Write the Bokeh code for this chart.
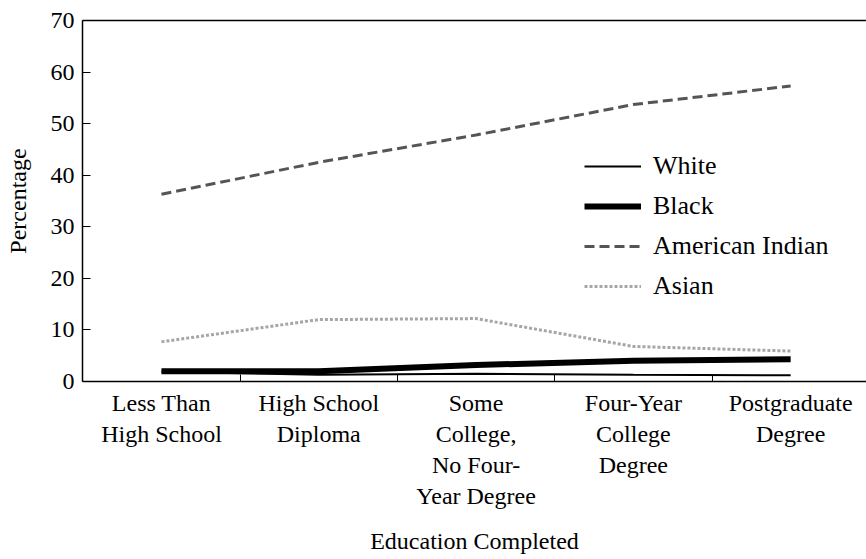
from bokeh.plotting import figure
from bokeh.models import Range1d, FixedTicker, LinearAxis, Legend, LegendItem
from bokeh.embed import file_html
from bokeh.resources import INLINE

categories = ["Less Than\nHigh School", "High School\nDiploma",
              "Some\nCollege,\nNo Four-\nYear Degree", "Four-Year\nCollege\nDegree",
              "Postgraduate\nDegree"]
x_pos = [0, 1, 2, 3, 4]
white = [1.9, 1.3, 1.5, 1.3, 1.2]
black = [2.0, 2.0, 3.2, 4.0, 4.3]
american_indian = [36.3, 42.5, 47.8, 53.7, 57.3]
asian = [7.7, 12.0, 12.2, 6.8, 5.9]
y_ticks = [0, 10, 20, 30, 40, 50, 60, 70]

FONT = "Liberation Serif"
TICK_FS = "24px"
AXIS_FS = "24px"
LEG_FS = "26px"

p = figure(width=866, height=559, output_backend="svg", toolbar_location=None,
           x_range=Range1d(-0.502, 4.482), y_range=Range1d(0, 70),
           min_border_left=82, min_border_top=20, min_border_bottom=178, min_border_right=0)
p.outline_line_color = None
p.grid.grid_line_color = None
p.background_fill_color = "white"
p.border_fill_color = "white"

r_white = p.line(x_pos, white, line_color="black", line_width=2)
r_black = p.line(x_pos, black, line_color="black", line_width=6)
r_ai = p.line(x_pos, american_indian, line_color="#555555", line_width=3, line_dash="10 5")
r_asian = p.line(x_pos, asian, line_color="#a6a6a6", line_width=3, line_dash="3 2")

# x axis: category names centred, tick marks between categories
xa = p.xaxis[0]
xa.ticker = FixedTicker(ticks=x_pos, minor_ticks=[0.5, 1.5, 2.5, 3.5])
xa.major_label_overrides = {i: c for i, c in zip(x_pos, categories)}
xa.major_tick_line_color = None
xa.minor_tick_in = 7
xa.minor_tick_out = 0
xa.minor_tick_line_color = "black"
xa.axis_line_color = "black"
xa.axis_line_width = 1.5
xa.major_label_text_font = FONT
xa.major_label_text_font_size = TICK_FS
xa.major_label_text_color = "black"
xa.major_label_standoff = 2
xa.axis_label = "Education Completed"
xa.axis_label_text_font = FONT
xa.axis_label_text_font_size = AXIS_FS
xa.axis_label_text_font_style = "normal"
xa.axis_label_text_color = "black"
xa.axis_label_standoff = 16

# y axis
ya = p.yaxis[0]
ya.ticker = FixedTicker(ticks=y_ticks)
ya.major_tick_in = 8
ya.major_tick_out = 0
ya.minor_tick_line_color = None
ya.axis_line_color = "black"
ya.axis_line_width = 1.5
ya.major_label_text_font = FONT
ya.major_label_text_font_size = TICK_FS
ya.major_label_text_color = "black"
ya.major_label_standoff = 8
ya.axis_label = "Percentage"
ya.axis_label_text_font = FONT
ya.axis_label_text_font_size = AXIS_FS
ya.axis_label_text_font_style = "normal"
ya.axis_label_text_color = "black"
ya.axis_label_standoff = 17

# top frame line
top = LinearAxis(ticker=FixedTicker(ticks=[]), axis_line_color="black", axis_line_width=1.5,
                 major_tick_line_color=None, minor_tick_line_color=None,
                 major_label_text_font_size="0px")
p.add_layout(top, "above")

legend = Legend(items=[LegendItem(label="White", renderers=[r_white]),
                       LegendItem(label="Black", renderers=[r_black]),
                       LegendItem(label="American Indian", renderers=[r_ai]),
                       LegendItem(label="Asian", renderers=[r_asian])],
                location=(502, 80))
legend.border_line_color = None
legend.background_fill_alpha = 0
legend.label_text_font = FONT
legend.label_text_font_size = LEG_FS
legend.label_text_color = "black"
legend.glyph_width = 57
legend.glyph_height = 26
legend.label_standoff = 12
legend.spacing = 10
legend.padding = 0
legend.margin = 0
p.add_layout(legend, "center")

open("out.html", "w").write(file_html(p, INLINE))
